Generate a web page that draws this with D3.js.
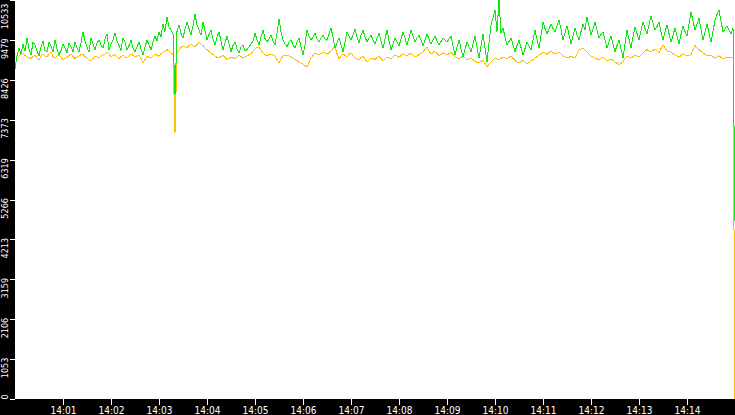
<!DOCTYPE html>
<html>
<head>
<meta charset="utf-8">
<script src="https://cdn.jsdelivr.net/npm/d3@7"></script>
<style>
  body { margin: 0; background: #000; }
  svg { display: block; }
</style>
</head>
<body>
<div id="chart"></div>
<script>
// one sample every 2.5 seconds from 14:00:00
const startTime = new Date(2020, 0, 1, 14, 0, 0);
const stepMs = 2500;

const greenValues = [
  8720, 9050, 9270, 9120, 9370, 9180, 9530, 9250, 9080, 9420, 9350, 9180, 9060, 9300, 9450, 9200, 9160, 9430, 9320, 9150,
  9480, 9250, 9090, 9200, 9370, 9260, 9140, 9400, 9300, 9160, 9430, 9270, 9170, 9400, 9690, 9450, 9290, 9150, 9530, 9380,
  9210, 9400, 9480, 9350, 9260, 9500, 9640, 9220, 9380, 9480, 9660, 9450, 9330, 9200, 9540, 9420, 9220, 9330, 9480, 9260,
  9170, 9300, 9420, 9250, 9090, 9300, 9470, 9350, 9210, 9420, 9580, 9450, 9690, 9560, 9900, 9700, 10080, 9820, 9740, 9640,
  8030, 9700, 9880, 9650, 9530, 9760, 9950, 9780, 9610, 9850, 10160, 9880, 9740, 9600, 9950, 9720, 9480, 9620, 9740, 9500,
  9350, 9550, 9690, 9450, 9210, 9400, 9580, 9380, 9170, 9330, 9420, 9250, 9140, 9300, 9350, 9180, 9220, 9300, 9370, 9450,
  9660, 9480, 9350, 9550, 9740, 9520, 9420, 9500, 9610, 9460, 9340, 9650, 10030, 9700, 9480, 9380, 9300, 9420, 9470, 9350,
  9260, 9420, 9530, 9300, 9080, 9350, 9740, 9580, 9480, 9550, 9660, 9500, 9420, 9520, 9610, 9500, 9470, 9620, 9800, 9550,
  9260, 9400, 9530, 9350, 9170, 9420, 9690, 9580, 9480, 9600, 9770, 9560, 9400, 9600, 9740, 9560, 9420, 9520, 9610, 9480,
  9380, 9520, 9660, 9450, 9260, 9500, 9740, 9460, 9210, 9380, 9530, 9420, 9320, 9500, 9690, 9520, 9340, 9540, 9740, 9580,
  9420, 9520, 9610, 9470, 9330, 9480, 9640, 9500, 9370, 9470, 9580, 9460, 9350, 9440, 9530, 9480, 9420, 9500, 9580, 9330,
  9080, 9280, 9480, 9250, 9030, 9230, 9430, 9300, 9170, 9370, 9580, 9290, 9000, 9320, 9640, 9270, 8900, 9400, 9880, 10060,
  10270, 9700, 10533, 9650, 9800, 9550, 9350, 9440, 9530, 9350, 9170, 9330, 9480, 9280, 9080, 9250, 9420, 9320, 9220, 9480,
  9740, 9500, 9260, 9600, 9950, 9780, 9640, 9760, 9900, 9780, 9690, 9850, 10000, 9760, 9480, 9660, 9850, 9620, 9370, 9580,
  9800, 9620, 9480, 9700, 9900, 9750, 10080, 9850, 9610, 9760, 9950, 9740, 9530, 9620, 9690, 9480, 9260, 9420, 9580, 9380,
  9170, 9330, 9480, 9250, 9000, 9380, 9740, 9500, 9260, 9560, 9820, 9650, 9480, 9720, 9950, 9780, 9640, 9880, 10110, 9920,
  9740, 9830, 9950, 9700, 9480, 9680, 9880, 9650, 9420, 9600, 9800, 9580, 9370, 9620, 9850, 9700, 9580, 9900, 10220, 9980,
  9740, 9900, 10060, 9760, 9480, 9690, 9900, 9660, 9420, 9710, 10000, 10150, 10270, 9980, 9690, 9770, 9850, 9740, 9640, 9780,
  4700
];

const goldValues = [
  9110, 9060, 9050, 9100, 9130, 9070, 9030, 9010, 8980, 9040, 9080, 9000, 8950, 9050, 9110, 9060, 9030, 9100, 9160, 9040,
  9000, 9050, 9090, 9020, 8960, 8990, 9020, 9070, 9110, 9040, 8990, 9030, 9060, 9090, 9100, 9040, 9000, 8950, 8920, 8990,
  9060, 9030, 9000, 9050, 9080, 9110, 9160, 9100, 9030, 9070, 9090, 9020, 8980, 9040, 9080, 9030, 9000, 9060, 9110, 9070,
  9030, 9060, 9080, 8990, 8870, 8960, 9060, 9020, 9000, 9060, 9110, 9070, 9050, 9120, 9160, 9180, 9220, 9190, 9140, 9100,
  7020, 9150, 9210, 9280, 9320, 9290, 9270, 9330, 9370, 9320, 9300, 9360, 9420, 9370, 9330, 9260, 9220, 9180, 9130, 9100,
  9050, 9020, 9000, 9040, 9080, 9010, 8960, 8990, 9030, 9010, 8980, 9030, 9080, 9040, 9000, 9030, 9060, 9090, 9110, 9180,
  9240, 9280, 9300, 9210, 9130, 9090, 9060, 9090, 9110, 9080, 9050, 8960, 8880, 8970, 9060, 9070, 9080, 9050, 9030, 9000,
  8960, 8930, 8900, 8870, 8840, 8800, 8770, 8880, 9000, 9070, 9130, 9110, 9090, 9120, 9160, 9130, 9100, 9150, 9190, 9250,
  9300, 9120, 8980, 9050, 9110, 9070, 9030, 9090, 9140, 9060, 9000, 8970, 8950, 9010, 9060, 8970, 8900, 8950, 9000, 8980,
  8960, 9010, 9050, 8990, 8930, 8980, 9030, 9000, 8980, 9030, 9080, 9050, 9020, 9070, 9110, 9080, 9060, 9100, 9140, 9080,
  9030, 9060, 9090, 9120, 9160, 9230, 9290, 9190, 9100, 9150, 9190, 9120, 9060, 9100, 9140, 9110, 9080, 9120, 9160, 9090,
  9030, 9000, 8980, 9020, 9060, 9000, 8950, 8970, 9000, 8960, 8920, 8890, 8870, 8910, 8950, 8860, 8770, 8840, 8900, 8950,
  9000, 8980, 8950, 8990, 9030, 9000, 8980, 9020, 9060, 8990, 8930, 8900, 8870, 8910, 8950, 8900, 8850, 8880, 8920, 8960,
  9000, 9040, 9080, 9120, 9160, 9130, 9100, 9150, 9190, 9140, 9110, 9130, 9160, 9110, 9060, 9030, 9000, 9020, 9050, 9020,
  9000, 9100, 9210, 9240, 9260, 9210, 9160, 9110, 9060, 9030, 9000, 8980, 8960, 9000, 9030, 8980, 8930, 8950, 8980, 8940,
  8900, 8860, 8820, 8860, 8900, 8980, 9060, 9030, 9000, 9040, 9080, 9050, 9030, 9080, 9130, 9180, 9220, 9190, 9160, 9200,
  9240, 9190, 9140, 9250, 9350, 9270, 9190, 9170, 9160, 9120, 9080, 9050, 9020, 9070, 9110, 9080, 9060, 9070, 9090, 9210,
  9330, 9270, 9220, 9180, 9140, 9100, 9060, 9070, 9080, 9040, 9000, 9030, 9060, 9020, 8980, 9000, 9030, 9010, 9000, 9020,
  0
];

const yTickValues = [0, 1053, 2106, 3159, 4213, 5266, 6319, 7373, 8426, 9479, 10533];
const xTickLabels = ["14:01", "14:02", "14:03", "14:04", "14:05", "14:06", "14:07",
  "14:08", "14:09", "14:10", "14:11", "14:12", "14:13", "14:14"];

const width = 735, height = 415;
const margin = { top: 0, right: 0, bottom: 16, left: 15 };

const times = greenValues.map((d, i) => d3.timeMillisecond.offset(startTime, i * stepMs));
const endTime = d3.timeMinute.offset(startTime, 15);

const svg = d3.select("#chart").append("svg")
  .attr("width", width)
  .attr("height", height)
  .style("background", "#000");

// white plot area
svg.append("rect")
  .attr("x", margin.left)
  .attr("y", margin.top)
  .attr("width", width - margin.left - margin.right)
  .attr("height", height - margin.top - margin.bottom)
  .attr("fill", "#fff");

const x = d3.scaleTime()
  .domain([startTime, endTime])
  .range([margin.left, width - margin.right]);

const y = d3.scaleLinear()
  .domain([0, d3.max(greenValues.concat(goldValues))])
  .range([height - margin.bottom, margin.top]);

// x axis
const xTicks = xTickLabels.map(s => {
  const p = s.split(":");
  return new Date(2020, 0, 1, +p[0], +p[1], 0);
});

const xAxis = svg.append("g")
  .attr("transform", `translate(0,${height - margin.bottom})`)
  .call(d3.axisBottom(x)
    .tickValues(xTicks)
    .tickFormat(d3.timeFormat("%H:%M"))
    .tickSize(6)
    .tickPadding(2));
xAxis.select(".domain").remove();
xAxis.selectAll("line").attr("stroke", "#fff").attr("shape-rendering", "crispEdges");
xAxis.selectAll("text")
  .attr("fill", "#fff")
  .style("font-family", "'DejaVu Sans Condensed', 'DejaVu Sans', sans-serif")
  .style("font-size", "10px");

// y axis, labels turned to read upwards
const yMax = y.domain()[1];
const yAxis = svg.append("g")
  .attr("transform", `translate(${margin.left},0)`)
  .call(d3.axisLeft(y)
    .tickValues(yTickValues)
    .tickFormat(d3.format("d"))
    .tickSize(5));
yAxis.select(".domain").remove();
yAxis.selectAll("line").attr("stroke", "#fff").attr("shape-rendering", "crispEdges");
yAxis.selectAll("text")
  .attr("fill", "#fff")
  .attr("transform", "rotate(-90)")
  .attr("dy", 0)
  .attr("y", -7.5)
  .attr("x", d => d === 0 ? 0 : (d >= yMax - 1 ? -3 : 2))
  .attr("text-anchor", d => d === 0 ? "start" : "end")
  .style("font-family", "'DejaVu Sans Condensed', 'DejaVu Sans', sans-serif")
  .style("font-size", "9px");

const line = d3.line()
  .x((d, i) => x(times[i]))
  .y(d => y(d));

svg.append("path")
  .datum(goldValues)
  .attr("fill", "none")
  .attr("stroke", "#ffc000")
  .attr("stroke-width", 1)
  .attr("shape-rendering", "crispEdges")
  .attr("d", line);

svg.append("path")
  .datum(greenValues)
  .attr("fill", "none")
  .attr("stroke", "#14e614")
  .attr("stroke-width", 1)
  .attr("shape-rendering", "crispEdges")
  .attr("d", line);
</script>
</body>
</html>
